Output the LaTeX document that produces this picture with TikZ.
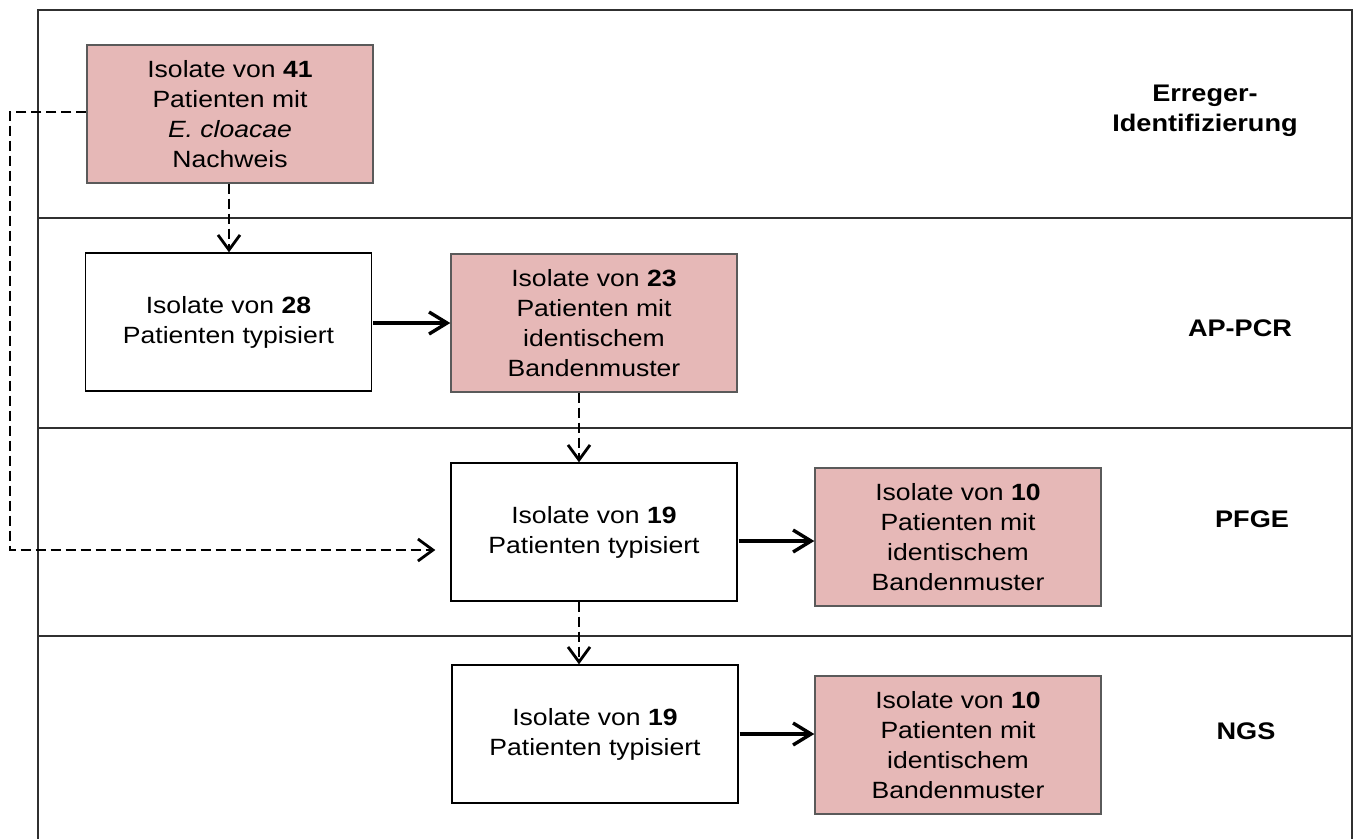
\documentclass[tikz,border=0pt]{standalone}
\usepackage{fontspec}
\setmainfont[FakeStretch=1.13]{Liberation Sans}
\usetikzlibrary{arrows.meta}
\definecolor{pinkfill}{HTML}{E6B8B7}
\definecolor{pinkdraw}{HTML}{5A5A5A}
\definecolor{frameline}{HTML}{303030}
\tikzset{
  boxbase/.style={rectangle, minimum width=286pt, minimum height=138pt, inner sep=2pt, align=center, font=\fontsize{23.5}{30}\selectfont, line width=1.4pt},
  pinkbox/.style={boxbase, draw=pinkdraw, fill=pinkfill},
  whitebox/.style={boxbase, draw=black, fill=white},
  lanelabel/.style={align=center, font=\fontsize{24}{30}\selectfont\bfseries},
  frameln/.style={draw=frameline, line width=2pt},
  solidarrow/.style={-{Straight Barb[length=18pt,width=22pt]}, line width=3.4pt},
  dasharrow/.style={-{Straight Barb[length=15pt,width=22pt]}, line width=2.8pt, dash pattern=on 10pt off 5pt},
}
\begin{document}
\begin{tikzpicture}[x=1pt,y=-1pt]
\useasboundingbox (0,0) rectangle (1354,839);
% frame
\draw[frameln] (38,839) -- (38,10) -- (1352,10) -- (1352,839);
\draw[frameln] (38,218) -- (1352,218);
\draw[frameln] (38,428) -- (1352,428);
\draw[frameln] (38,636) -- (1352,636);
% lane labels
\node[lanelabel] (l1) at (1205,111) {Erreger-\\Identifizierung};
\node[lanelabel] (l2) at (1240,328) {AP-PCR};
\node[lanelabel] (l3) at (1252,519) {PFGE};
\node[lanelabel] (l4) at (1246,731) {NGS};
% boxes
\node[pinkbox] (b1) at (230,114) {Isolate von \textbf{41}\\Patienten mit\\\textit{E. cloacae}\\Nachweis};
\node[whitebox] (b2) at (228.5,322) {Isolate von \textbf{28}\\Patienten typisiert};
\node[pinkbox] (b3) at (594,323) {Isolate von \textbf{23}\\Patienten mit\\identischem\\Bandenmuster};
\node[whitebox] (b4) at (594,532) {Isolate von \textbf{19}\\Patienten typisiert};
\node[pinkbox] (b5) at (958,537) {Isolate von \textbf{10}\\Patienten mit\\identischem\\Bandenmuster};
\node[whitebox] (b6) at (595,734) {Isolate von \textbf{19}\\Patienten typisiert};
\node[pinkbox] (b7) at (958,745) {Isolate von \textbf{10}\\Patienten mit\\identischem\\Bandenmuster};
% helper coordinates
\coordinate (loopA) at (10,112);
\coordinate (loopB) at (10,550);
\coordinate (x579) at (579,0);
% connectors
\draw[dasharrow] (b1.south -| 229,0) -- (b2.north -| 229,0);
\draw[solidarrow] ([xshift=1pt]b2.east |- 0,323) -- (b3.west |- 0,323);
\draw[dasharrow] (b3.south -| x579) -- (b4.north -| x579);
\draw[dasharrow] (b1.west |- loopA) -- (loopA) -- (loopB) -- ([xshift=-15pt]b4.west |- loopB);
\draw[solidarrow] ([xshift=1pt]b4.east |- 0,541) -- (b5.west |- 0,541);
\draw[dasharrow] (b4.south -| x579) -- (b6.north -| x579);
\draw[solidarrow] ([xshift=1pt]b6.east |- 0,734) -- (b7.west |- 0,734);
\end{tikzpicture}
\end{document}
